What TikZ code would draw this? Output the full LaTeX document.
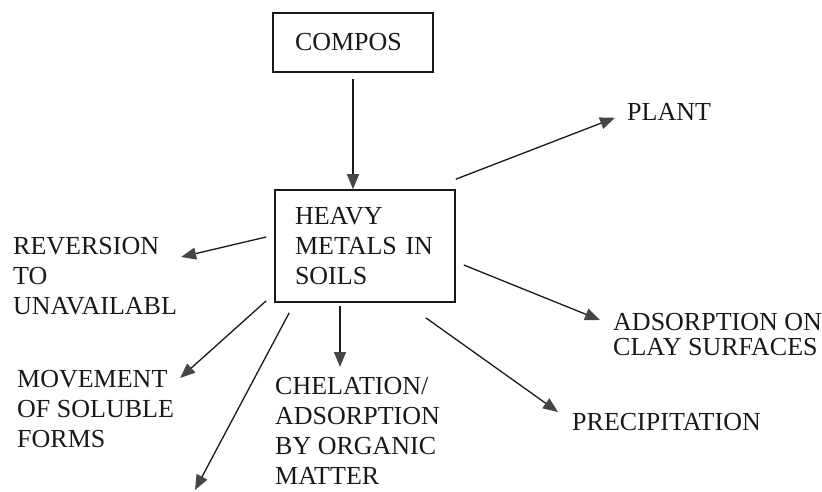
\documentclass[tikz,border=0pt]{standalone}
\usepackage{fontspec}
\setmainfont{Liberation Serif}
\usetikzlibrary{arrows.meta,calc}
\definecolor{cInk}{RGB}{25,25,25}
\definecolor{cHead}{RGB}{70,70,70}

\begin{document}
\begin{tikzpicture}[x=1pt,y=-1pt,
  box/.style={draw=cInk,line width=1.6pt,inner sep=0pt,align=left,text=cInk,font=\fontsize{26}{30}\selectfont},
  lbl/.style={anchor=north west,inner sep=0pt,align=left,text=cInk,font=\fontsize{26}{30}\selectfont},
  arr/.style={cInk,line width=1.3pt,-{Triangle[length=15pt,width=12pt,color=cHead]}}]
\useasboundingbox (0,0) rectangle (822,492);
\node[box,minimum width=160pt,minimum height=59pt,text width=116pt] (compos) at (353,42.5) {COMPOS};
\node[box,minimum width=180pt,minimum height=112pt,text width=140pt] (heavy) at (365,246) {HEAVY\\METALS IN\\SOILS};
\node[lbl] (plant) at (627,103) {PLANT};
\node[lbl] (rev) at (13,237) {REVERSION\\TO\\UNAVAILABL};
\node[lbl] (move) at (17,370) {MOVEMENT\\OF SOLUBLE\\FORMS};
\node[lbl] (chel) at (275,377) {CHELATION/\\ADSORPTION\\BY ORGANIC\\MATTER};
\node[lbl] (prec) at (572,413) {PRECIPITATION};
\node[lbl,font=\fontsize{26}{25}\selectfont] (adsorb) at (613,313) {ADSORPTION ON\\CLAY SURFACES};
\coordinate (leach) at (195,490);
\draw[arr] ($(compos.south)+(0,6)$) -- (compos.south |- heavy.north);
\draw[arr] ($(heavy.north east)+(0,-10)$) -- ($(plant.west)+(-12,6)$);
\draw[arr] ($(heavy.west)+(-8,-9)$) -- ($(rev.north east)+(4,20)$);
\draw[arr] ($(heavy.south west)+(-8,-2)$) -- ($(move.north east)+(6,8)$);
\draw[arr] ($(heavy.south west)+(15,10)$) -- (leach);
\draw[arr] ($(heavy.south)+(-25,3)$) -- ($(chel.north west)+(65,-10)$);
\draw[arr] ($(heavy.south east)+(-30,15)$) -- ($(prec.north west)+(-14,-1)$);
\draw[arr] ($(heavy.east)+(8,19)$) -- ($(adsorb.north west)+(-13,7)$);
\end{tikzpicture}
\end{document}
